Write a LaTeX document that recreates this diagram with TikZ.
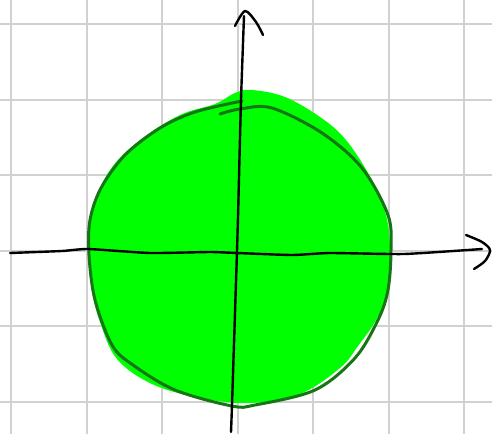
\documentclass[tikz,border=0pt]{standalone}
\begin{document}
\begin{tikzpicture}[x=1pt,y=-1pt,
  gridline/.style={draw=black!18, line width=2pt},
  axisline/.style={draw=black, line width=2.4pt, line cap=round, line join=round},
  rimline/.style={draw=rimgreen, line width=3pt, line cap=round, line join=round}]
\definecolor{rimgreen}{RGB}{22,118,22}
\definecolor{blobgreen}{RGB}{0,255,0}
\useasboundingbox (0,0) rectangle (492,434);
\fill[white] (0,0) rectangle (492,434);
% grid
\foreach \gx in {11,87,162,238,313,389,464}
  \draw[gridline] (\gx,0) -- (\gx,434);
\foreach \gy in {24,100,175,251,326,402}
  \draw[gridline] (0,\gy) -- (492,\gy);
% green fill blob
\fill[blobgreen] plot[smooth cycle, tension=0.6] coordinates {
  (252,90) (285,97) (320,117) (346,140) (372,180) (386,215) (390,250)
  (388,290) (376,320) (358,346) (340,368) (300,394) (250,403) (200,398)
  (152,384) (117,359) (100,322) (92,290) (88,250) (92,210) (110,170)
  (140,140) (180,115) (215,104) (235,93)};
% dark green outline
\draw[rimline] plot[smooth, tension=0.55] coordinates {
  (220,114) (240,109) (272,108) (322,133) (362,168) (388,215) (391,250)
  (388,290) (378,320) (355,358) (315,390) (255,405) (232,406) (175,390)
  (133,365) (112,345) (95,300) (89,255) (90,220) (101,188) (125,155)
  (160,128) (195,112) (242,101)};
% vertical axis
\draw[axisline] plot[smooth, tension=0.3] coordinates {
  (231,432) (232,405) (237,251) (238,217) (241,100) (244,16)};
\draw[axisline] plot[smooth, tension=0.5] coordinates {
  (235,26) (245,11) (256,22) (263,35)};
% horizontal axis
\draw[axisline] plot[smooth, tension=0.3] coordinates {
  (10,253) (62,251) (88,249) (150,253) (210,252) (237,253) (292,255)
  (330,253) (404,254) (482,249)};
\draw[axisline] plot[smooth, tension=0.5] coordinates {
  (466,235) (482,242) (490,250) (485,261) (474,269)};
\end{tikzpicture}
\end{document}
